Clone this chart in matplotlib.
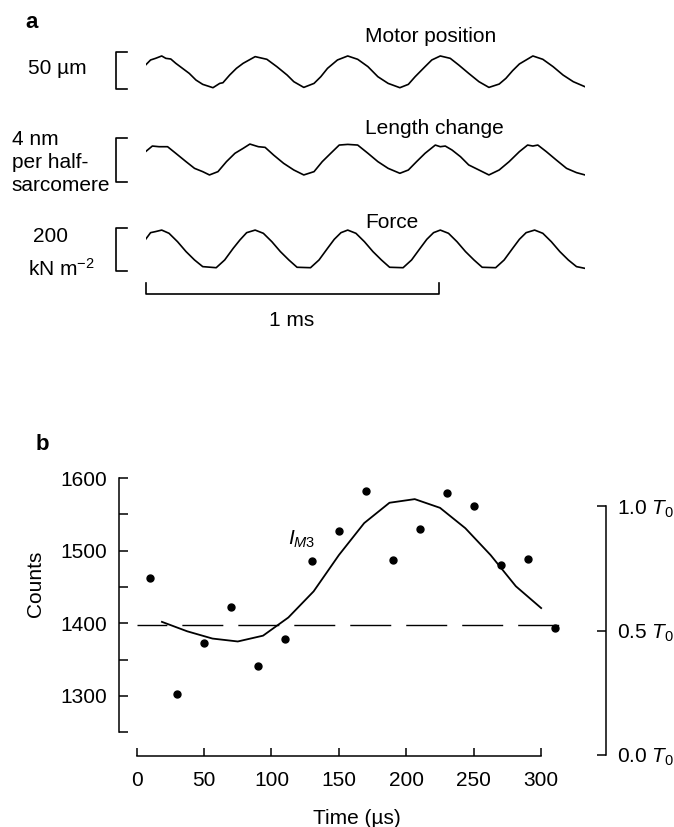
"""Sinusoidal oscillation traces (a) and M3 intensity vs time (b)."""

import matplotlib

matplotlib.use("Agg")
import matplotlib.pyplot as plt
from matplotlib import transforms

# ---------------------------------------------------------------- data, panel a
# time in microseconds, values relative to the mean of each trace
motor_time = [0, 17, 34, 55, 69, 86, 103, 126, 149, 172, 195, 230, 253, 264, 287,
              310, 333, 374, 414, 448, 483, 506, 540, 575, 598, 621, 655, 690, 724,
              759, 793, 828, 868, 897, 920, 954, 977, 1006, 1040, 1069, 1103, 1138,
              1172, 1207, 1230, 1253, 1276, 1322, 1356, 1391, 1425, 1460, 1500]
motor_um = [9.0, 15.8, 18.0, 21.2, 18.0, 17.1, 11.3, 4.5, -2.3, -11.3,
            -17.1, -21.6, -15.8, -14.9, -4.5, 4.5, 11.3, 20.3, 16.7, 6.8,
            -4.5, -13.5, -21.2, -15.8, -6.8, 4.5, 15.8, 21.2, 16.7, 6.8,
            -6.8, -15.8, -21.6, -17.1, -6.8, 6.8, 15.8, 21.2, 18.0, 9.0,
            -2.3, -13.5, -21.2, -16.7, -9.0, 1.4, 10.4, 21.2, 16.7, 6.8,
            -4.5, -13.5, -20.3]

length_time = [0, 23, 46, 75, 103, 138, 167, 195, 218, 247, 276, 305, 333, 356,
               385, 408, 437, 471, 506, 540, 575, 603, 632, 661, 690, 724, 759, 793,
               828, 868, 897, 925, 954, 989, 1006, 1023, 1046, 1075, 1103, 1138,
               1172, 1207, 1241, 1276, 1304, 1322, 1339, 1368, 1402, 1437, 1471, 1500]
length_nm = [0.76, 1.27, 1.21, 1.21, 0.61, -0.15, -0.76, -1.06, -1.36, -1.06,
             -0.15, 0.61, 1.06, 1.45, 1.21, 1.15, 0.45, -0.30, -0.91, -1.36,
             -1.06, -0.15, 0.61, 1.36, 1.42, 1.36, 0.61, -0.15, -0.76, -1.21,
             -0.91, -0.15, 0.61, 1.36, 1.21, 1.27, 0.91, 0.30, -0.45, -0.91,
             -1.36, -0.91, -0.15, 0.76, 1.36, 1.27, 1.36, 0.76, 0.0, -0.76,
             -1.15, -1.36]

force_time = [0, 17, 34, 55, 80, 109, 138, 167, 195, 241, 270, 299, 322, 345, 374,
              402, 431, 460, 489, 517, 563, 592, 621, 644, 667, 690, 718, 747, 776,
              805, 833, 879, 908, 937, 960, 983, 1006, 1034, 1063, 1092, 1121, 1149,
              1195, 1224, 1253, 1276, 1299, 1328, 1356, 1385, 1414, 1443, 1471, 1500]
force_kpa = [45, 76, 81, 88, 73, 34, -12, -51, -82, -87,
             -51, 3, 42, 76, 88, 73, 34, -12, -51, -85,
             -87, -51, 3, 45, 76, 88, 73, 34, -12, -51,
             -85, -87, -51, 3, 45, 76, 88, 73, 34, -12,
             -51, -85, -87, -51, 3, 45, 76, 88, 73, 34,
             -12, -51, -82, -90]

trace_titles = ["Motor position", "Length change", "Force"]
trace_scales = [50, 4, 200]          # height of the calibration brackets
time_scale_us = 1000                 # horizontal bar: 1 ms

# ---------------------------------------------------------------- data, panel b
time_us = [10, 30, 50, 70, 90, 110, 130, 150, 170, 190, 210, 230, 250, 270, 290, 310]
counts = [1462, 1303, 1373, 1422, 1341, 1379, 1486, 1527, 1582, 1487,
          1530, 1580, 1561, 1480, 1488, 1393]
fit_time_us = [18.75, 37.5, 56.25, 75, 93.75, 112.5, 131.25, 150, 168.75, 187.5,
               206.25, 225, 243.75, 262.5, 281.25, 300]
fit_counts = [1402, 1389, 1379, 1375, 1383, 1408, 1444, 1494, 1538, 1566,
              1571, 1559, 1531, 1494, 1451, 1421]
baseline_counts = 1397
baseline_span = (0, 321)

count_ticks = [1250, 1300, 1350, 1400, 1450, 1500, 1550, 1600]
count_labels = ["", "1300", "", "1400", "", "1500", "", "1600"]
time_ticks = [0, 50, 100, 150, 200, 250, 300]
force_ticks = [0.0, 0.5, 1.0]
force_labels = [r"0.0 $T_{0}$", r"0.5 $T_{0}$", r"1.0 $T_{0}$"]
counts_at_zero_force = 1219
counts_per_T0 = 342

W, H = 674, 827
FS = 15


def px_axes(fig, left, top, right, bottom):
    """Add axes from a pixel box measured from the top-left corner."""
    return fig.add_axes([left / W, 1 - bottom / H, (right - left) / W, (bottom - top) / H])


def ftext(fig, x, y, s, **kw):
    kw.setdefault("fontsize", FS)
    fig.text(x / W, 1 - y / H, s, **kw)


def main():
    plt.rcParams["font.family"] = ["Liberation Sans", "DejaVu Sans"]
    plt.rcParams["mathtext.fontset"] = "custom"
    plt.rcParams["mathtext.rm"] = "Liberation Sans"
    plt.rcParams["mathtext.it"] = "Liberation Sans:italic"
    plt.rcParams["lines.scale_dashes"] = False

    fig = plt.figure(figsize=(W / 100, H / 100), dpi=100)

    # ---------------- panel a
    boxes = [(45, 100, (-38.2, 36.0), -23.8),
             (130, 190, (-2.73, 2.73), -1.97),
             (220, 280, (-144.2, 134.9), -100.9)]
    series = [(motor_time, motor_um), (length_time, length_nm), (force_time, force_kpa)]
    trace_axes = []
    for (top, bottom, ylim, br_bottom), (t, v), scale in zip(boxes, series, trace_scales):
        ax = px_axes(fig, 145.6, top, 585, bottom)
        ax.plot(t, v, color="black", lw=1.2)
        ax.set_xlim(0, 1500)
        ax.set_ylim(*ylim)
        ax.axis("off")
        # calibration bracket
        ax.plot([-64.5, -101, -101, -64.5],
                [br_bottom, br_bottom, br_bottom + scale, br_bottom + scale],
                color="black", lw=1.2, clip_on=False)
        trace_axes.append(ax)

    trans = transforms.blended_transform_factory(trace_axes[2].transData,
                                                 trace_axes[2].transAxes)
    trace_axes[2].plot([0, 0, time_scale_us, time_scale_us], [-0.05, -0.233, -0.233, -0.05],
                       color="black", lw=1.2, transform=trans, clip_on=False)

    ftext(fig, 25, 28, "a", fontweight="heavy", fontsize=16)
    for title, y in zip(trace_titles, [42.5, 134.3, 227.7]):
        ftext(fig, 365, y, title, va="baseline")
    ftext(fig, 28, 74, "50 µm", va="baseline")
    ftext(fig, 11.7, 145, "4 nm", va="baseline")
    ftext(fig, 11.7, 168, "per half-", va="baseline")
    ftext(fig, 11.7, 190.7, "sarcomere", va="baseline")
    ftext(fig, 33, 241.7, "200", va="baseline")
    ftext(fig, 28.3, 276, r"kN m$^{-2}$", va="baseline")
    ftext(fig, 292, 320, "1 ms", ha="center", va="center")

    # ---------------- panel b
    ax = px_axes(fig, 119, 470.8, 606, 755.5)
    ax.set_xlim(-13.1, 348.1)
    ax.set_ylim(1218, 1610)
    ax.hlines(baseline_counts, *baseline_span, color="black", lw=1.0,
              linestyles=[(8, (29.5, 10.8))])
    ax.plot(fit_time_us, fit_counts, color="black", lw=1.3)
    ax.plot(time_us, counts, "o", color="black", ms=5)
    ax.text(112, 1507.6, r"$I_{\mathit{M3}}$", ha="left", va="baseline", fontsize=FS)

    for side in ("top", "right"):
        ax.spines[side].set_visible(False)
    ax.spines["left"].set_bounds(1250, 1600)
    ax.spines["bottom"].set_bounds(0, 300)
    for sp in ax.spines.values():
        sp.set_linewidth(1.1)
    ax.set_yticks(count_ticks)
    ax.set_yticklabels(count_labels)
    ax.set_xticks(time_ticks)
    ax.tick_params(axis="y", direction="in", length=6.3, width=1.1, pad=8.9, labelsize=FS)
    ax.tick_params(axis="x", direction="in", length=5.5, width=1.1, pad=11, labelsize=FS)

    ax2 = ax.twinx()
    ax2.set_ylim((1218 - counts_at_zero_force) / counts_per_T0,
                 (1610 - counts_at_zero_force) / counts_per_T0)
    for side in ("top", "left", "bottom"):
        ax2.spines[side].set_visible(False)
    ax2.spines["right"].set_bounds(0, 1)
    ax2.spines["right"].set_linewidth(1.1)
    ax2.set_yticks(force_ticks)
    ax2.set_yticklabels(force_labels)
    ax2.tick_params(axis="y", direction="in", length=6.5, width=1.1, pad=7.7, labelsize=FS)

    ftext(fig, 36, 450.5, "b", fontweight="heavy", fontsize=16)
    ftext(fig, 35, 584, "Counts", rotation=90, ha="center", va="center")
    ftext(fig, 356.5, 809, "Time (µs)", ha="center", va="top")

    fig.savefig("out.png", dpi=100)
    plt.close(fig)


if __name__ == "__main__":
    main()
